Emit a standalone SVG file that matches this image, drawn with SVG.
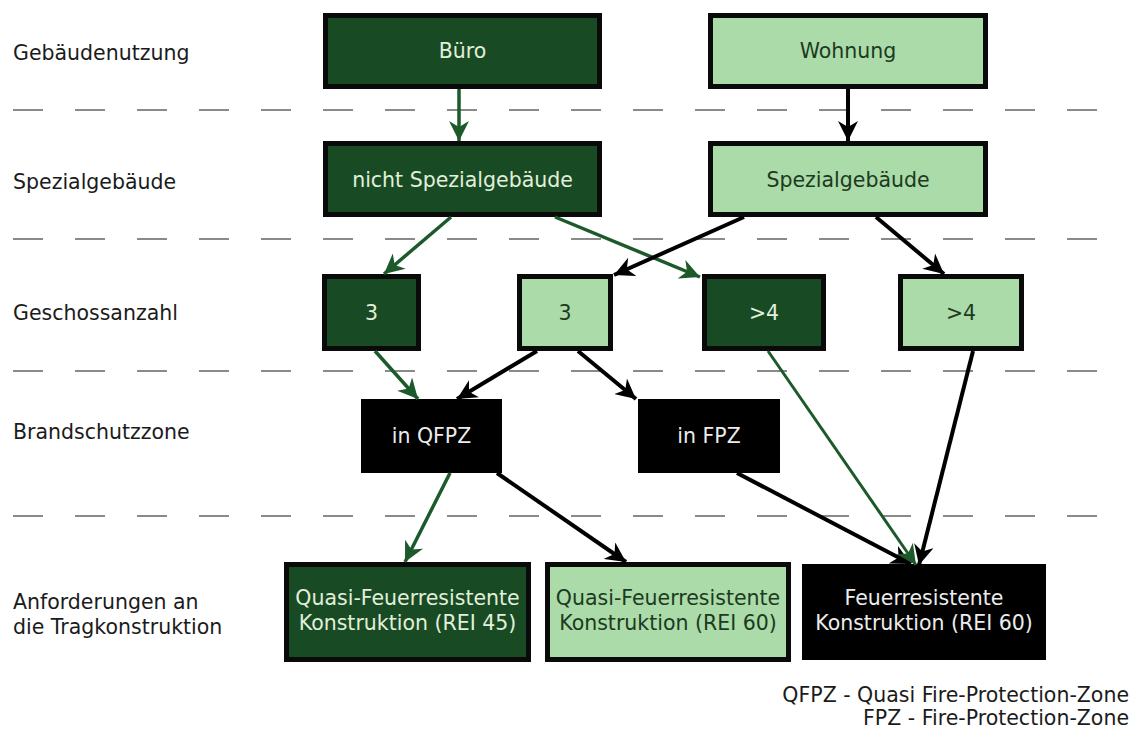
<svg xmlns="http://www.w3.org/2000/svg" width="1133" height="735" viewBox="0 0 1133 735">
<style>
text{font-family:"DejaVu Sans","Liberation Sans",sans-serif;font-size:20.5px}
.lbl{fill:#1b1b1b}
.dark rect{fill:#184b23;stroke:#0a0a0a;stroke-width:5}
.light rect{fill:#aadba8;stroke:#0a0a0a;stroke-width:5}
.blk rect{fill:#000}
.dark text{fill:#e2efdc;text-anchor:middle}
.light text{fill:#1c3a1e;text-anchor:middle}
.blk text{fill:#ececec;text-anchor:middle}
.dash{stroke:#8a8a8a;stroke-width:2.2;stroke-dasharray:30 32}
.cg{stroke:#1d5a2b;stroke-width:3.5;fill:none}
.cb{stroke:#000;stroke-width:4;fill:none}
</style>
<defs>
<marker id="ag" viewBox="0 0 20 20" refX="20" refY="10" markerWidth="20" markerHeight="20" markerUnits="userSpaceOnUse" orient="auto"><path d="M0,0 L20,10 L0,20 L6,10 z" fill="#1d5a2b"/></marker>
<marker id="ab" viewBox="0 0 20 20" refX="20" refY="10" markerWidth="20" markerHeight="20" markerUnits="userSpaceOnUse" orient="auto"><path d="M0,0 L20,10 L0,20 L6,10 z" fill="#000"/></marker>
</defs>
<rect width="1133" height="735" fill="#fff"/>
<g id="separators">
<line class="dash" x1="13" y1="110" x2="1100" y2="110"/>
<line class="dash" x1="13" y1="239" x2="1100" y2="239"/>
<line class="dash" x1="13" y1="371" x2="1100" y2="371"/>
<line class="dash" x1="13" y1="516" x2="1100" y2="516"/>
</g>
<g id="labels">
<text class="lbl" x="13" y="60">Gebäudenutzung</text>
<text class="lbl" x="13" y="189">Spezialgebäude</text>
<text class="lbl" x="13" y="320">Geschossanzahl</text>
<text class="lbl" x="13" y="439">Brandschutzzone</text>
<text class="lbl" x="13" y="609">Anforderungen an</text>
<text class="lbl" x="13" y="634">die Tragkonstruktion</text>
</g>
<g id="n-buero" class="dark"><rect x="325.5" y="15.5" width="274" height="71"/><text x="462.5" y="58">Büro</text></g>
<g id="n-wohnung" class="light"><rect x="710.5" y="15.5" width="275" height="71"/><text x="848" y="58">Wohnung</text></g>
<g id="n-nicht-spezial" class="dark"><rect x="325.5" y="143.5" width="274" height="71"/><text x="462.5" y="187">nicht Spezialgebäude</text></g>
<g id="n-spezial" class="light"><rect x="710.5" y="143.5" width="275" height="71"/><text x="848" y="187">Spezialgebäude</text></g>
<g id="n-3-dark" class="dark"><rect x="324.5" y="276.5" width="94" height="72"/><text x="371.5" y="320">3</text></g>
<g id="n-3-light" class="light"><rect x="519.5" y="276.5" width="91" height="72"/><text x="565" y="320">3</text></g>
<g id="n-4-dark" class="dark"><rect x="704.5" y="276.5" width="119" height="72"/><text x="764" y="320">&gt;4</text></g>
<g id="n-4-light" class="light"><rect x="900.5" y="276.5" width="121" height="72"/><text x="961" y="320">&gt;4</text></g>
<g id="n-qfpz" class="blk"><rect x="361" y="399" width="141" height="74"/><text x="431.5" y="443">in QFPZ</text></g>
<g id="n-fpz" class="blk"><rect x="638" y="399" width="142" height="74"/><text x="709" y="443">in FPZ</text></g>
<g id="n-rei45" class="dark"><rect x="286.5" y="564.5" width="242" height="95"/><text x="407.5" y="605">Quasi-Feuerresistente</text><text x="407.5" y="630">Konstruktion (REI 45)</text></g>
<g id="n-qrei60" class="light"><rect x="547.5" y="564.5" width="241" height="95"/><text x="668" y="605">Quasi-Feuerresistente</text><text x="668" y="630">Konstruktion (REI 60)</text></g>
<g id="n-rei60" class="blk"><rect x="802" y="564" width="244" height="96"/><text x="924" y="605">Feuerresistente</text><text x="924" y="630">Konstruktion (REI 60)</text></g>
<g id="connectors">
<path class="cg" d="M459,89 L459,141" marker-end="url(#ag)"/>
<path class="cb" d="M848,89 L848,141" marker-end="url(#ab)"/>
<path class="cg" d="M451,217 L384,274" marker-end="url(#ag)"/>
<path class="cg" d="M555,217 L700,277" marker-end="url(#ag)"/>
<path class="cb" d="M744,217 L614,275" marker-end="url(#ab)"/>
<path class="cb" d="M876,217 L944,274" marker-end="url(#ab)"/>
<path class="cg" d="M375,351 L418,399" marker-end="url(#ag)"/>
<path class="cb" d="M537,351 L457,399" marker-end="url(#ab)"/>
<path class="cb" d="M578,351 L636,399" marker-end="url(#ab)"/>
<path class="cb" d="M497,473 L626,562" marker-end="url(#ab)"/>
<path class="cg" d="M450,473 L405,562" marker-end="url(#ag)"/>
<path class="cb" d="M737,473 L911,564" marker-end="url(#ab)"/>
<path class="cb" d="M973,351 L919,565" marker-end="url(#ab)"/>
<path class="cg" style="stroke-width:3" d="M768,351 L916,565" marker-end="url(#ag)"/>
</g>
<g id="legend">
<text class="lbl" x="1129" y="702" text-anchor="end">QFPZ - Quasi Fire-Protection-Zone</text>
<text class="lbl" x="1129" y="725" text-anchor="end">FPZ - Fire-Protection-Zone</text>
</g>
</svg>
